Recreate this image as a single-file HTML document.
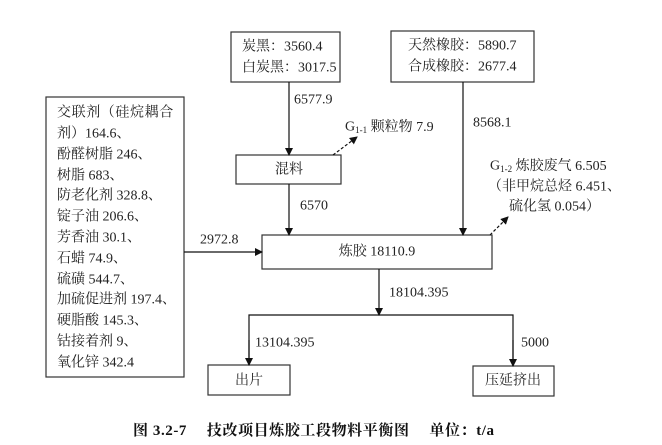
<!DOCTYPE html>
<html><head><meta charset="utf-8"><style>
body{margin:0;background:#fff}
svg{display:block}
text{font-family:"Liberation Serif","Noto Serif CJK SC","Noto Sans CJK SC",serif;font-size:14px;fill:#222;dominant-baseline:central}
</style></head><body>
<svg width="662" height="445" viewBox="0 0 662 445">
<defs><marker id="a" markerWidth="8" markerHeight="8" refX="7" refY="4" orient="auto" markerUnits="userSpaceOnUse"><path d="M0,0L8,4L0,8z" fill="#111"/></marker></defs>
<g fill="none" stroke="#333" stroke-width="1.2">
<rect x="231" y="32" width="109" height="50"/>
<rect x="391" y="31" width="143" height="51"/>
<rect x="46" y="97" width="138" height="280"/>
<rect x="236" y="155" width="105" height="29"/>
<rect x="262" y="235" width="230" height="34"/>
<rect x="208" y="365" width="82" height="30"/>
<rect x="473" y="366" width="81" height="30"/>
</g>
<g stroke="#111" stroke-width="1.2" fill="none">
<line x1="289" y1="82" x2="289" y2="155" marker-end="url(#a)"/>
<line x1="289" y1="184" x2="289" y2="235" marker-end="url(#a)"/>
<line x1="463" y1="82" x2="463" y2="235" marker-end="url(#a)"/>
<line x1="184" y1="252" x2="262" y2="252" marker-end="url(#a)"/>
<line x1="379" y1="269" x2="379" y2="315" marker-end="url(#a)"/>
<polyline points="249,365 249,315 513,315 513,366" />
<line x1="249" y1="340" x2="249" y2="365" marker-end="url(#a)"/>
<line x1="513" y1="340" x2="513" y2="366" marker-end="url(#a)"/>
<line x1="333" y1="155" x2="357" y2="137" stroke-dasharray="3,2" marker-end="url(#a)"/>
<line x1="490" y1="235" x2="508" y2="217" stroke-dasharray="3,2" marker-end="url(#a)"/>
</g>
<text x="242" y="47">炭黑：3560.4</text>
<text x="242" y="68">白炭黑：3017.5</text>
<text x="408" y="46">天然橡胶：5890.7</text>
<text x="408" y="67">合成橡胶：2677.4</text>
<text x="289" y="170" text-anchor="middle">混料</text>
<text x="377" y="252" text-anchor="middle">炼胶 18110.9</text>
<text x="249" y="381" text-anchor="middle">出片</text>
<text x="513" y="381" text-anchor="middle">压延挤出</text>
<text x="294" y="100">6577.9</text>
<text x="345" y="127">G<tspan font-size="9" dy="3">1-1</tspan><tspan dy="-3"> 颗粒物 7.9</tspan></text>
<text x="473" y="123">8568.1</text>
<text x="490" y="166">G<tspan font-size="9" dy="3">1-2</tspan><tspan dy="-3"> 炼胶废气 6.505</tspan></text>
<text x="488" y="187">（非甲烷总烃 6.451、</text>
<text x="509" y="207">硫化氢 0.054）</text>
<text x="300" y="206">6570</text>
<text x="200" y="240">2972.8</text>
<text x="389" y="293">18104.395</text>
<text x="255" y="343">13104.395</text>
<text x="521" y="343">5000</text>
<g>
<text x="57" y="113" letter-spacing="0.6">交联剂（硅烷耦合</text>
<text x="57" y="134">剂）164.6、</text>
<text x="57" y="155">酚醛树脂 246、</text>
<text x="57" y="176">树脂 683、</text>
<text x="57" y="196">防老化剂 328.8、</text>
<text x="57" y="217">锭子油 206.6、</text>
<text x="57" y="238">芳香油 30.1、</text>
<text x="57" y="259">石蜡 74.9、</text>
<text x="57" y="280">硫磺 544.7、</text>
<text x="57" y="300">加硫促进剂 197.4、</text>
<text x="57" y="321">硬脂酸 145.3、</text>
<text x="57" y="342">钴接着剂 9、</text>
<text x="57" y="363">氧化锌 342.4</text>
</g>
<text x="133" y="431" font-weight="bold" textLength="361" lengthAdjust="spacing" style="font-size:15px;fill:#111">图 3.2-7　 技改项目炼胶工段物料平衡图　 单位：t/a</text>
</svg>
</body></html>
